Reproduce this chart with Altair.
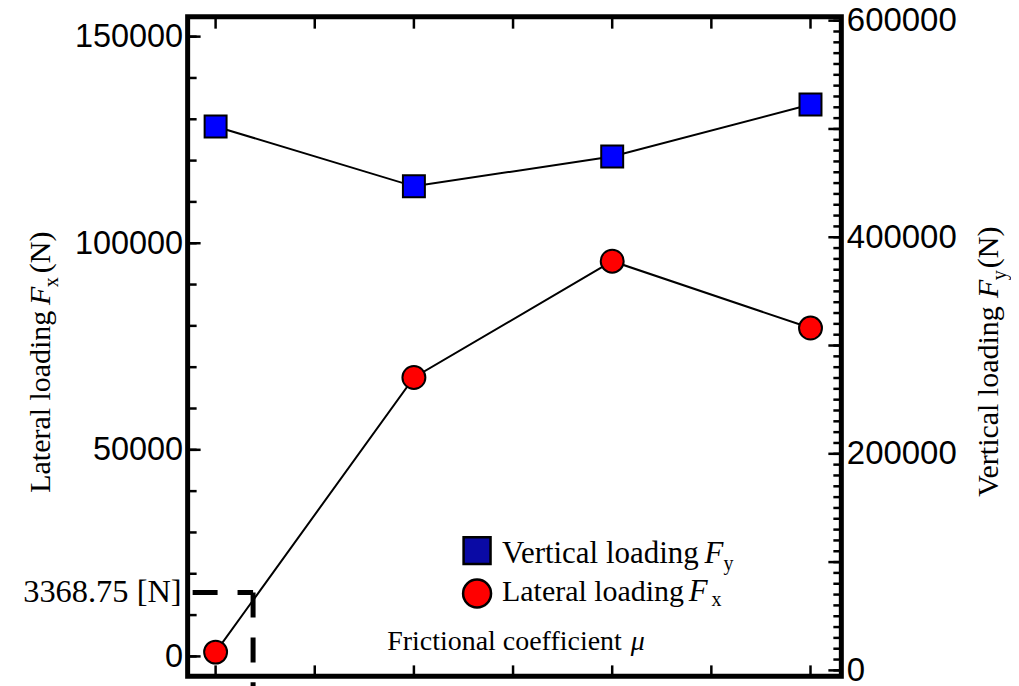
import altair as alt
import pandas as pd

# ---- data ----
mu = [0.1, 0.3, 0.5, 0.7]
lateral_n = [1040, 67500, 95650, 79470]
vertical_n = [502300, 447000, 474650, 522600]

left_labels = [0, 50000, 100000, 150000]
right_labels = [0, 200000, 400000, 600000]
left_minor = list(range(0, 150001, 10000))
left_major = [0, 50000, 100000, 150000]
right_minor = list(range(0, 600001, 10000))
right_major = list(range(0, 600001, 100000))
x_ticks = [0.1, 0.2, 0.3, 0.4, 0.5, 0.6, 0.7]

box_mu = [0.1378]
box_force = [15460]
box_label = "3368.75 [N]"

# ---- layout ----
W, H = 655, 661
x_dom = [0.0718, 0.7311]
left_dom = [-4831, 154831]
right_dom = [-5530, 603687]

x_scale = alt.Scale(domain=x_dom, nice=False, zero=False)
left_scale = alt.Scale(domain=left_dom, nice=False, zero=False)
right_scale = alt.Scale(domain=right_dom, nice=False, zero=False)

SERIF = "Liberation Serif"
SANS = "Liberation Sans"

lat_df = pd.DataFrame({"mu": mu, "f": lateral_n})
vert_df = pd.DataFrame({"mu": mu, "f": vertical_n})

left_axis = alt.Axis(orient="left", values=left_labels, format="d", ticks=False, domain=False,
                     grid=False, labelFont=SANS, labelFontSize=32.5, labelColor="black",
                     labelPadding=5, labelFlush=False, labelOverlap=False, title=None)
right_axis = alt.Axis(orient="right", values=right_labels, format="d", ticks=False, domain=False,
                      grid=False, labelFont=SANS, labelFontSize=33, labelColor="black",
                      labelPadding=5, labelFlush=False, labelOverlap=False, title=None)

lat_line = alt.Chart(lat_df).mark_line(color="black", strokeWidth=2).encode(
    x=alt.X("mu:Q", scale=x_scale, axis=None),
    y=alt.Y("f:Q", scale=left_scale, axis=left_axis),
)
lat_pts = alt.Chart(lat_df).mark_point(shape="circle", filled=True, fill="#ff0000", stroke="black",
                                       strokeWidth=2, size=529, opacity=1, fillOpacity=1).encode(
    x=alt.X("mu:Q", scale=x_scale, axis=None),
    y=alt.Y("f:Q", scale=left_scale, axis=None),
)

vert_line = alt.Chart(vert_df).mark_line(color="black", strokeWidth=2).encode(
    x=alt.X("mu:Q", scale=x_scale, axis=None),
    y=alt.Y("f:Q", scale=right_scale, axis=right_axis),
)
vert_pts = alt.Chart(vert_df).mark_point(shape="square", filled=True, fill="#0000ff", stroke="black",
                                         strokeWidth=2, size=484, opacity=1, fillOpacity=1).encode(
    x=alt.X("mu:Q", scale=x_scale, axis=None),
    y=alt.Y("f:Q", scale=right_scale, axis=None),
)


def yticks(vals, scale, x1, x2):
    return alt.Chart(pd.DataFrame({"v": vals})).mark_rule(color="black", strokeWidth=2.5).encode(
        y=alt.Y("v:Q", scale=scale, axis=None), x=alt.value(x1), x2=alt.value(x2))


def xticks(vals, y1, y2):
    return alt.Chart(pd.DataFrame({"m": vals})).mark_rule(color="black", strokeWidth=2.5).encode(
        x=alt.X("m:Q", scale=x_scale, axis=None), y=alt.value(y1), y2=alt.value(y2))


left_minor_r = yticks(left_minor, left_scale, 0, 9)
left_major_r = yticks(left_major, left_scale, 0, 13)
right_minor_r = yticks(right_minor, right_scale, W, W - 8)
right_major_r = yticks(right_major, right_scale, W, W - 13)
top_t = xticks(x_ticks, 0, 12)
bot_t = xticks(x_ticks, H, H - 11)

px_per_unit = H / (left_dom[1] - left_dom[0])
below = left_dom[0] - 40 / px_per_unit
box_df = pd.DataFrame({"m0": [x_dom[0]], "m": box_mu, "f": box_force, "f0": [below]})
dash_h = alt.Chart(box_df).mark_rule(color="black", strokeWidth=5, strokeDash=[25, 20],
                                     strokeDashOffset=40).encode(
    x=alt.X("m0:Q", scale=x_scale, axis=None), x2="m:Q",
    y=alt.Y("f:Q", scale=left_scale, axis=None))
dash_v = alt.Chart(box_df).mark_rule(color="black", strokeWidth=5, strokeDash=[25, 20]).encode(
    x=alt.X("m:Q", scale=x_scale, axis=None),
    y=alt.Y("f:Q", scale=left_scale, axis=None), y2="f0:Q")


def txt(s, x, y, size=30, style="normal", angle=0, font=SERIF, align="left"):
    return alt.Chart(pd.DataFrame({"t": [s]})).mark_text(
        font=font, fontSize=size, fontStyle=style, angle=angle, align=align,
        baseline="alphabetic", color="black").encode(
        text="t:N", x=alt.value(x), y=alt.value(y))


def sym(shape, fill, x, y, size):
    return alt.Chart(pd.DataFrame({"t": [0]})).mark_point(
        shape=shape, filled=True, fill=fill, stroke="black", strokeWidth=2.5, size=size,
        opacity=1, fillOpacity=1).encode(x=alt.value(x), y=alt.value(y))


texts = [
    # legend
    sym("square", "#0a0aa5", 290, 535, 729),
    sym("circle", "#ff0000", 290, 578, 784),
    txt("Vertical loading", 315, 547, size=31),
    txt("F", 518, 547, size=31, style="italic"),
    txt("y", 537, 554, size=20),
    txt("Lateral loading", 315, 585, size=30),
    txt("F", 502, 585, size=31, style="italic"),
    txt("x", 525, 590, size=20),
    # x title
    txt("Frictional coefficient", 200, 635, size=28),
    txt("\u03bc", 444, 635, size=28, style="italic"),
    # left title
    txt("Lateral loading", -138, 477, angle=270),
    txt("F", -138, 289, angle=270, style="italic"),
    txt("x", -130, 271, size=20, angle=270),
    txt("(N)", -138, 257, angle=270),
    # right title
    txt("Vertical loading", 812, 481, angle=270),
    txt("F", 812, 282, angle=270, style="italic"),
    txt("y", 820, 264, size=20, angle=270),
    txt("(N)", 812, 252, angle=270),
    # inset label
    txt(box_label, -6, 586, size=32.5, align="right"),
]

layers = [lat_line, vert_line, lat_pts, vert_pts, left_minor_r, left_major_r,
          right_minor_r, right_major_r, top_t, bot_t, dash_h, dash_v] + texts

chart = alt.layer(*layers).resolve_scale(y="independent").properties(
    width=W, height=H,
    autosize=alt.AutoSizeParams(type="none"),
    padding={"left": 180, "top": 8, "right": 170, "bottom": 30},
    background="white",
).configure_view(stroke="black", strokeWidth=5)

chart.save("out.html", embed_options={"renderer": "svg", "actions": False})
